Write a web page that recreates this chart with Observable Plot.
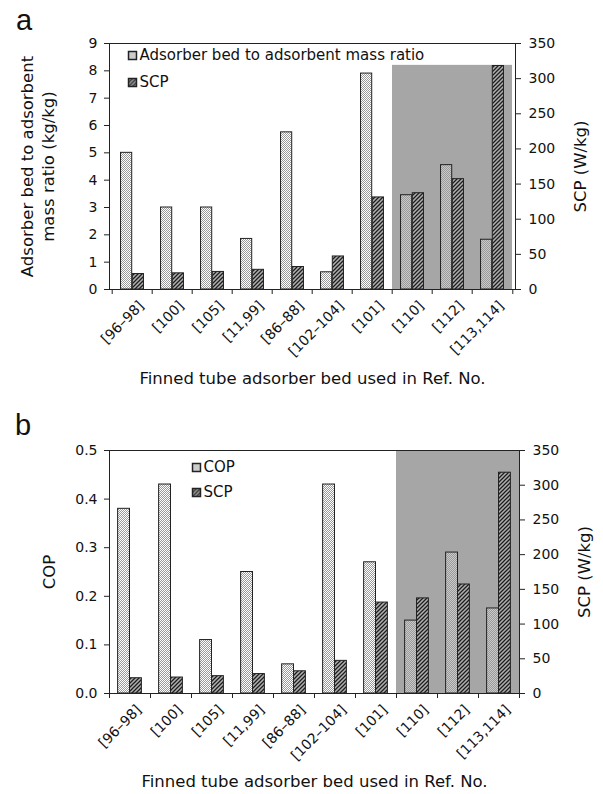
<!DOCTYPE html>
<html>
<head>
<meta charset="utf-8">
<script src="https://cdn.jsdelivr.net/npm/d3@7"></script>
<script src="https://cdn.jsdelivr.net/npm/@observablehq/plot@0.6"></script>
<style>
  html, body { margin: 0; padding: 0; background: #fff; }
  #page { width: 603px; height: 794px; position: relative; overflow: hidden; }
  #page svg.plot { display: block; }
</style>
</head>
<body>
<svg width="0" height="0" style="position:absolute">
  <defs>
    <pattern id="dots" width="2" height="2" patternUnits="userSpaceOnUse">
      <rect width="2" height="2" fill="#fff" fill-opacity="0.4"/>
      <rect x="0" y="0" width="1" height="1" fill="#9a9a9a"/>
      <rect x="1" y="1" width="1" height="1" fill="#9a9a9a"/>
    </pattern>
    <pattern id="hatch" width="4" height="4" patternUnits="userSpaceOnUse">
      <rect width="4" height="4" fill="#b0b0b0"/>
      <path d="M-1,1 L1,-1 M0,4 L4,0 M3,5 L5,3" stroke="#1e1e1e" stroke-width="1.3"/>
    </pattern>
  </defs>
</svg>
<div id="page"><div id="a"></div><div id="b"></div></div>
<script>
// ---- data ----
const categories = ["[96–98]", "[100]", "[105]", "[11,99]", "[86–88]", "[102–104]", "[101]", "[110]", "[112]", "[113,114]"];
const massRatio = [5.0, 3.0, 3.0, 1.85, 5.75, 0.63, 7.9, 3.45, 4.55, 1.82];
const scp = [22, 23, 25, 28, 32, 47, 131, 137, 157, 318];
const cop = [0.38, 0.43, 0.11, 0.25, 0.06, 0.43, 0.27, 0.15, 0.29, 0.175];
const shadedCategories = ["[110]", "[112]", "[113,114]"];
const massRatioTicks = [0, 1, 2, 3, 4, 5, 6, 7, 8, 9];
const copTicks = [0, 0.1, 0.2, 0.3, 0.4, 0.5];
const scpTicks = [0, 50, 100, 150, 200, 250, 300, 350];
const xTitle = "Finned tube adsorber bed used in Ref. No.";

function panel(cfg) {
  const W = 603, H = 397;
  const plotW = W - cfg.ml - cfg.mr;
  const plotH = H - cfg.mt - cfg.mb;
  const bw = plotW / categories.length;
  const k = cfg.yMax / 350;
  const rows = categories.map((c, i) => ({cat: c, left: cfg.leftValues[i], scp: scp[i] * k}));
  const shadeRows = shadedCategories.map(c => ({cat: c, top: cfg.shadeTop}));
  const ink = "#222";
  return Plot.plot({
    width: W, height: H,
    marginLeft: cfg.ml, marginRight: cfg.mr, marginTop: cfg.mt, marginBottom: cfg.mb,
    style: {fontFamily: "DejaVu Sans", fontSize: "14px", color: "#111", background: "#fff", overflow: "visible"},
    x: {type: "band", domain: categories, padding: 0, axis: null},
    y: {domain: [0, cfg.yMax], label: null},
    marks: [
      Plot.barY(shadeRows, {x: "cat", y: "top", fill: "#a6a6a6", inset: 0}),
      Plot.barY(rows, {x: "cat", y: "left", fill: "url(#dots)", stroke: ink, strokeWidth: 1, insetLeft: 0.21 * bw, insetRight: 0.5 * bw}),
      Plot.barY(rows, {x: "cat", y: "scp", fill: "url(#hatch)", stroke: ink, strokeWidth: 1, insetLeft: 0.5 * bw, insetRight: 0.21 * bw}),
      Plot.frame({stroke: ink}),
      Plot.axisY(cfg.leftTicks, {anchor: "left", tickSize: 5, tickPadding: 7, label: null, fontSize: 14, stroke: ink}),
      Plot.axisY(scpTicks.map(v => v * k), {anchor: "right", tickSize: 5, tickPadding: 8, label: null, fontSize: 14, stroke: ink, tickFormat: d => String(Math.round(d / k))}),
      Plot.ruleX(categories, {x: d => d, dx: -bw / 2, insetTop: plotH, insetBottom: -5, stroke: ink}),
      Plot.ruleX([categories[categories.length - 1]], {x: d => d, dx: bw / 2, insetTop: plotH, insetBottom: -5, stroke: ink}),
      Plot.text(categories, {x: d => d, frameAnchor: "bottom", dy: 14, dx: 9, rotate: -45, textAnchor: "end", lineAnchor: "middle", fontSize: 14, fill: "#111"}),
      Plot.text([xTitle], {frameAnchor: "bottom", dy: cfg.xTitleDy, textAnchor: "middle", lineAnchor: "middle", fontSize: 16.5, fill: "#111", dx: 0}),
      Plot.text([cfg.yTitle], {frameAnchor: "left", dx: cfg.yTitleDx, rotate: -90, textAnchor: "middle", lineAnchor: "middle", fontSize: 16.5, lineHeight: 1.33, fill: "#111"}),
      Plot.text(["SCP (W/kg)"], {frameAnchor: "right", dx: 65, rotate: -90, textAnchor: "middle", lineAnchor: "middle", fontSize: 16.5, fill: "#111"}),
      Plot.text([cfg.letter], {frameAnchor: "top-left", dx: cfg.letterDx, dy: cfg.letterDy, textAnchor: "middle", lineAnchor: "middle", fontSize: 29, fontFamily: "Liberation Sans", fill: "#111"}),
      Plot.dot([0], {frameAnchor: "top-left", dx: cfg.legDx, dy: cfg.legDy1, symbol: "square", r: 4.5, fill: "url(#dots)", stroke: ink}),
      Plot.dot([0], {frameAnchor: "top-left", dx: cfg.legDx, dy: cfg.legDy2, symbol: "square", r: 4.5, fill: "url(#hatch)", stroke: ink}),
      Plot.text([cfg.legend1], {frameAnchor: "top-left", dx: cfg.legDx + 7, dy: cfg.legDy1, textAnchor: "start", lineAnchor: "middle", fontSize: 15, fill: "#111"}),
      Plot.text(["SCP"], {frameAnchor: "top-left", dx: cfg.legDx + 7, dy: cfg.legDy2, textAnchor: "start", lineAnchor: "middle", fontSize: 15, fill: "#111"})
    ]
  });
}

const chartA = panel({
  ml: 109, mr: 88, mt: 43, mb: 108,
  yMax: 9, leftValues: massRatio, leftTicks: massRatioTicks, shadeTop: 8.2,
  yTitle: "Adsorber bed to adsorbent\nmass ratio (kg/kg)", yTitleDx: -73,
  xTitleDy: 89, letter: "a", letterDx: -85.5, letterDy: -23,
  legend1: "Adsorber bed to adsorbent mass ratio", legDx: 23, legDy1: 12, legDy2: 39
});
chartA.classList.add("plot");
document.getElementById("a").appendChild(chartA);

const chartB = panel({
  ml: 109, mr: 84, mt: 53, mb: 101,
  yMax: 0.5, leftValues: cop, leftTicks: copTicks, shadeTop: 0.5,
  yTitle: "COP", yTitleDx: -62,
  xTitleDy: 88, letter: "b", letterDx: -86.5, letterDy: -25,
  legend1: "COP", legDx: 87, legDy1: 17, legDy2: 42
});
chartB.classList.add("plot");
document.getElementById("b").appendChild(chartB);
</script>
</body>
</html>
